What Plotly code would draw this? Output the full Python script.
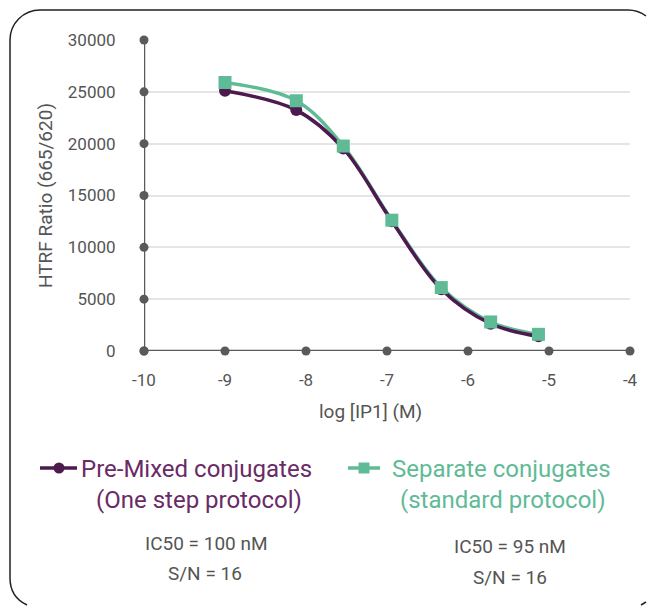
import plotly.graph_objects as go

# ---- data ----
log_ip1 = [-9.0, -8.12, -7.54, -6.94, -6.33, -5.72, -5.13]
premixed = [25100, 23240, 19540, 12520, 5960, 2630, 1420]
separate = [25900, 24140, 19770, 12620, 6120, 2800, 1610]
x_ticks = [-10, -9, -8, -7, -6, -5, -4]
y_ticks = [0, 5000, 10000, 15000, 20000, 25000, 30000]
x_tick_labels = ["-10", "-9", "-8", "-7", "-6", "-5", "-4"]
y_tick_labels = ["0", "5000", "10000", "15000", "20000", "25000", "30000"]
name_premixed = "Pre-Mixed conjugates"
sub_premixed = "(One step protocol)"
name_separate = "Separate conjugates"
sub_separate = "(standard protocol)"
stats_premixed = ["IC50 = 100 nM", "S/N = 16"]
stats_separate = ["IC50 = 95 nM", "S/N = 16"]
x_title = "log [IP1] (M)"
y_title = "HTRF Ratio (665/620)"

PURPLE = "#4d1a4f"
PURPLE_TXT = "#6a2a66"
GREEN = "#5fbb96"
AXIS = "#5a5a5a"
GREY_TXT = "#555555"
FONT = "Roboto, sans-serif"

W, H = 647, 606
L, R, T, B = 144, 17, 40, 255
PW, PH = W - L - R, H - T - B


def px(x):
    return (x - L) / PW


def py(y):
    return (H - B - y) / PH


fig = go.Figure()

# curves
fig.add_trace(go.Scatter(x=log_ip1, y=separate, mode="lines",
                         line=dict(color=GREEN, width=3.5, shape="spline", smoothing=1),
                         showlegend=False, hoverinfo="skip"))
fig.add_trace(go.Scatter(x=log_ip1, y=premixed, mode="lines+markers",
                         line=dict(color=PURPLE, width=3.5, shape="spline", smoothing=1),
                         marker=dict(symbol="circle", size=12, color=PURPLE),
                         showlegend=False))
fig.add_trace(go.Scatter(x=log_ip1, y=separate, mode="markers",
                         marker=dict(symbol="square", size=13, color=GREEN),
                         showlegend=False))

# axis tick dots
fig.add_trace(go.Scatter(x=x_ticks, y=[0] * len(x_ticks), mode="markers",
                         marker=dict(size=9, color=AXIS), cliponaxis=False,
                         showlegend=False, hoverinfo="skip"))
fig.add_trace(go.Scatter(x=[x_ticks[0]] * len(y_ticks), y=y_ticks, mode="markers",
                         marker=dict(size=9, color=AXIS), cliponaxis=False,
                         showlegend=False, hoverinfo="skip"))

fig.update_xaxes(range=[x_ticks[0], x_ticks[-1]], tickvals=x_ticks, ticktext=x_tick_labels,
                 showgrid=False, zeroline=False, showline=False, automargin=False,
                 tickfont=dict(family=FONT, size=17, color=GREY_TXT),
                 ticks="outside", ticklen=14, tickcolor="rgba(0,0,0,0)")
fig.update_yaxes(range=[y_ticks[0], y_ticks[-1]], tickvals=y_ticks, ticktext=y_tick_labels,
                 showgrid=True, gridcolor="#e5e5e5", gridwidth=1.5,
                 zeroline=False, showline=False, automargin=False,
                 tickfont=dict(family=FONT, size=17, color=GREY_TXT),
                 ticks="outside", ticklen=24, tickcolor="rgba(0,0,0,0)")

shapes = []
# axis lines
shapes.append(dict(type="line", xref="x", yref="y", x0=x_ticks[0], x1=x_ticks[-1], y0=0, y1=0,
                   line=dict(color=AXIS, width=2.5), layer="below"))
shapes.append(dict(type="line", xref="x", yref="y", x0=x_ticks[0], x1=x_ticks[0],
                   y0=y_ticks[0], y1=y_ticks[-1], line=dict(color=AXIS, width=2.5), layer="below"))

# rounded frame, kept inside the page (it runs off the picture on the right/bottom)
k = 0.5523
r = 30
def P(x, y):
    return f"{px(x):.5f},{py(y):.5f}"
path_main = (f"M {P(646, 16)} Q {P(638, 10)} {P(628, 10)} "
             f"L {P(40, 10)} "
             f"C {P(40 - k * r, 10)} {P(10, 40 - k * r)} {P(10, 40)} "
             f"L {P(10, 578)} "
             f"Q {P(10, 597)} {P(27, 605)}")
path_br = f"M {P(641, 605)} L {P(646, 602)}"
for pth in (path_main, path_br):
    shapes.append(dict(type="path", xref="paper", yref="paper", path=pth,
                       line=dict(color="#222222", width=1.5)))

# legend symbols
shapes.append(dict(type="line", xref="paper", yref="paper", x0=px(40), x1=px(77), y0=py(468), y1=py(468),
                   line=dict(color=PURPLE, width=3.5)))
shapes.append(dict(type="circle", xref="paper", yref="paper", x0=px(53.5), x1=px(64.5), y0=py(462.5), y1=py(473.5),
                   fillcolor=PURPLE, line=dict(width=0)))
shapes.append(dict(type="line", xref="paper", yref="paper", x0=px(348), x1=px(380), y0=py(468), y1=py(468),
                   line=dict(color=GREEN, width=3.5)))
shapes.append(dict(type="rect", xref="paper", yref="paper", x0=px(358.5), x1=px(369.5), y0=py(462.5), y1=py(473.5),
                   fillcolor=GREEN, line=dict(width=0)))

annotations = []
def ann(text, x, y, size, color, angle=0):
    annotations.append(dict(text=text, xref="paper", yref="paper", x=px(x), y=py(y),
                            xanchor="center", yanchor="middle", showarrow=False, textangle=angle,
                            font=dict(family=FONT, size=size, color=color)))

ann(x_title, 370, 411, 19, GREY_TXT)
ann(y_title, 45, 196, 19, GREY_TXT, -90)
ann(name_premixed, 196, 469, 24, PURPLE_TXT)
ann(sub_premixed, 199, 500, 24, PURPLE_TXT)
ann(stats_premixed[0], 206, 543, 19, GREY_TXT)
ann(stats_premixed[1], 205, 573, 19, GREY_TXT)
ann(name_separate, 501, 469, 24, GREEN)
ann(sub_separate, 503, 500, 24, GREEN)
ann(stats_separate[0], 510, 546, 19, GREY_TXT)
ann(stats_separate[1], 510, 577, 19, GREY_TXT)

fig.update_layout(width=W, height=H, margin=dict(l=L, r=R, t=T, b=B),
                  plot_bgcolor="white", paper_bgcolor="white",
                  shapes=shapes, annotations=annotations, showlegend=False,
                  font=dict(family=FONT))

fig.write_html("out.html", config={"displayModeBar": False},
               post_script="document.body.style.margin='0';document.body.style.overflow='hidden';")
